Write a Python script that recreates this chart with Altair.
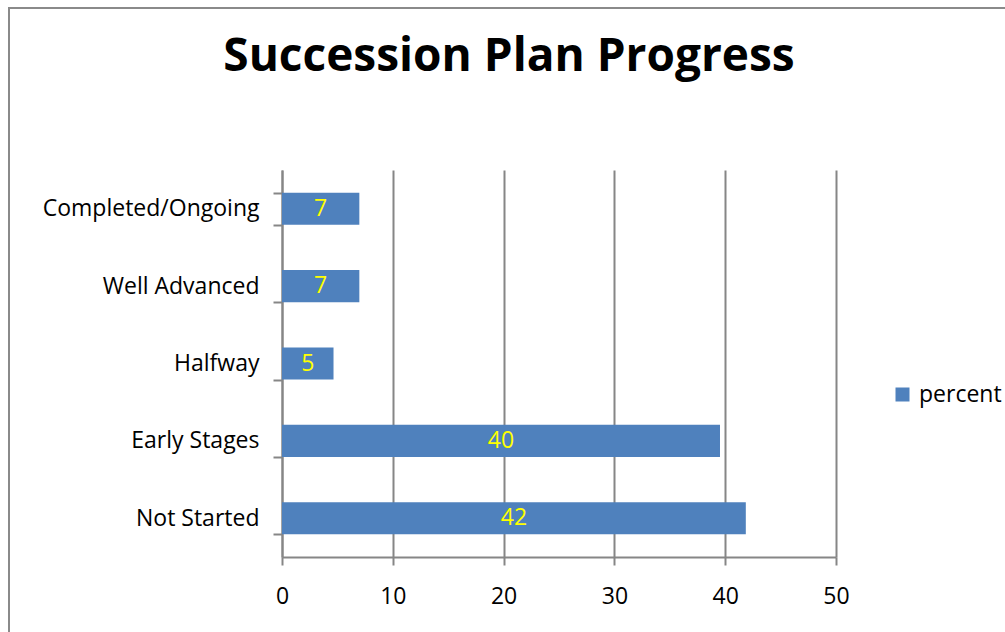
import altair as alt
import pandas as pd

categories = ["Completed/Ongoing", "Well Advanced", "Halfway", "Early Stages", "Not Started"]
percent = [6.98, 6.98, 4.65, 39.53, 41.86]
series_name = "percent"

df = pd.DataFrame({"category": categories, "percent": percent, "series": [series_name] * len(categories)})

FONT = "Open Sans"
GRAY = "#868686"
FS = 23

base = alt.Chart(df)

bars = base.mark_bar(color="#4F81BD").encode(
    y=alt.Y("category:N", sort=categories,
            scale=alt.Scale(paddingInner=0.585, paddingOuter=0.2925),
            axis=alt.Axis(title=None, tickBand="extent", tickSize=9, tickColor=GRAY,
                          tickWidth=2, domainColor=GRAY, domainWidth=2,
                          labelFont=FONT, labelFontSize=FS, labelColor="#000000",
                          labelPadding=14, labelLimit=400, grid=False)),
    x=alt.X("percent:Q", scale=alt.Scale(domain=[0, 50]),
            axis=alt.Axis(title=None, values=[0, 10, 20, 30, 40, 50], tickSize=8,
                          tickColor=GRAY, tickWidth=2, domainColor=GRAY, domainWidth=2,
                          grid=True, gridColor=GRAY, gridWidth=2, labelFlush=False,
                          labelFont=FONT, labelFontSize=FS, labelColor="#000000",
                          labelPadding=20)),
    fill=alt.Fill("series:N", scale=alt.Scale(range=["#4F81BD"]),
                  legend=alt.Legend(title=None, orient="none", legendX=609, legendY=213,
                                    symbolType="square", symbolSize=196,
                                    symbolStrokeWidth=0,
                                    labelFont=FONT, labelFontSize=FS, labelColor="#000000",
                                    labelOffset=5)),
)

labels = base.transform_calculate(mid="datum.percent / 2").mark_text(
    color="#FFFF00", font=FONT, fontSize=FS, baseline="middle", align="center"
).encode(
    y=alt.Y("category:N", sort=categories),
    x=alt.X("mid:Q"),
    text=alt.Text("percent:Q", format=".0f"),
)

frame = alt.Chart(pd.DataFrame({"k": [0]})).mark_rect(
    fill=None, stroke="#8a8a8a", strokeWidth=2, clip=False
).encode(
    x=alt.value(-273), x2=alt.value(740), y=alt.value(-162), y2=alt.value(480)
)

chart = alt.layer(frame, bars, labels).properties(
    width=554, height=387,
    title=alt.TitleParams("Succession Plan Progress", font=FONT, fontSize=46,
                          fontWeight="bold", color="#000000", anchor="middle",
                          baseline="alphabetic",
                          frame="group", dx=-50, offset=-110),
    padding={"left": 282, "top": 170, "right": 169, "bottom": 75},
    autosize=alt.AutoSizeParams(type="none"),
    background="white",
).configure_view(stroke=None)

chart.save("out.html", embed_options={"renderer": "svg", "actions": False})
